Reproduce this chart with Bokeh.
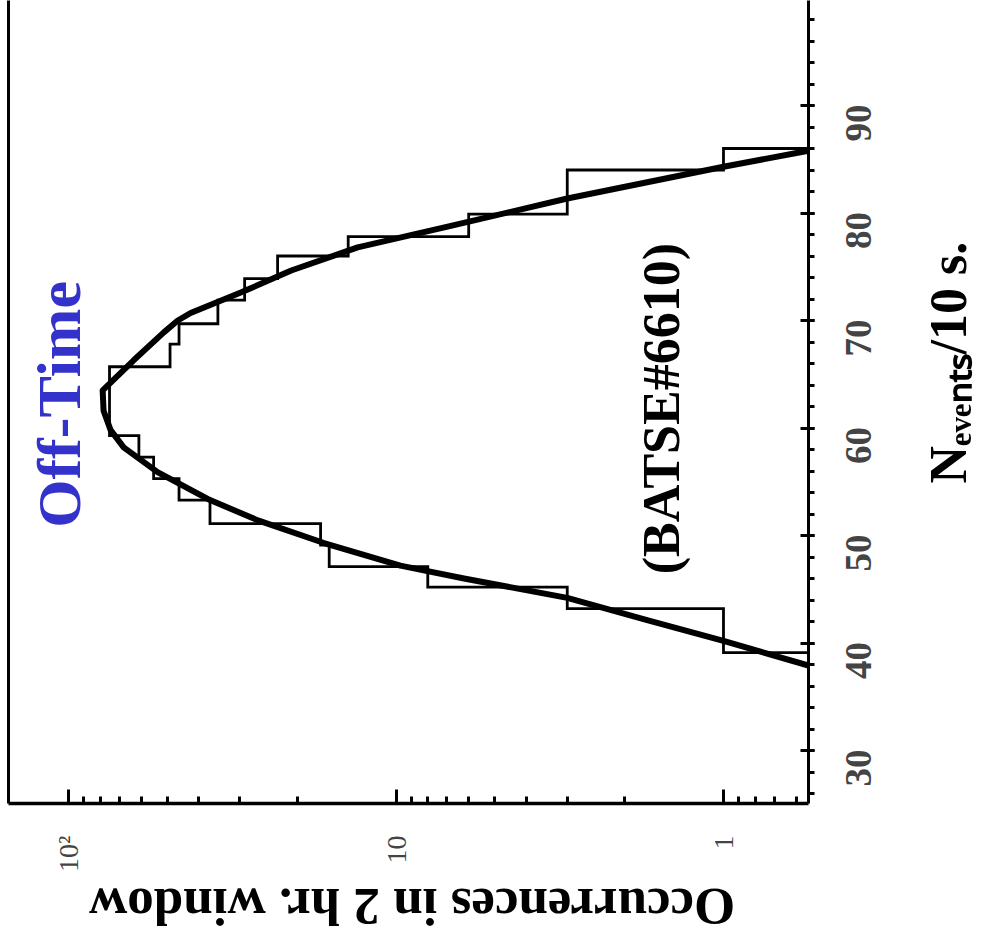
import math
from bokeh.plotting import figure
from bokeh.models import (Range1d, LinearAxis, Label, SingleIntervalTicker,
                          LogTicker, FixedTicker, CustomJSTickFormatter)
from bokeh.embed import file_html
from bokeh.resources import INLINE

# ---------------- data ----------------
# histogram: bin edges in N_events/10 s. and occurrences per bin
bin_edges = [39.1, 41.2, 43.2, 45.2, 47.1, 49.1, 51.1, 53.3, 55.3, 57.3, 59.3,
             61.4, 63.5, 65.7, 67.8, 69.7, 71.9, 73.9, 76.0, 77.8, 79.9, 81.9,
             84.0, 86.0]
bin_counts = [1, 1, 3, 8, 16, 17, 37, 46, 55, 61, 75, 75, 75, 49, 46, 35, 29,
              23, 14, 6, 3, 3, 1]
hist_floor = 0.1  # histogram closes to zero below the visible range

# fitted curve (N_events/10 s., occurrences)
fit_n = [37.9, 40.2, 42.1, 44.2, 46.0, 47.2, 49.3, 51.4, 53.4, 55.9, 58.2,
         59.8, 61.6, 63.5, 66.3, 68.9, 70.0, 70.7, 72.6, 74.65, 76.8, 78.8,
         81.35, 84.3, 85.8]
fit_counts = [0.55, 1.0, 1.7, 3.0, 6.2, 9.7, 16.6, 26.4, 37.6, 53.5, 67.9,
              74.4, 78.2, 78.7, 63.3, 51.2, 46.4, 42.4, 29.8, 20.9, 13.1, 6.8,
              3.0, 1.0, 0.55]

occ_range = (152.6, 0.55)     # reversed log axis (left -> right)
n_range = (25.07, 99.77)
n_label_shift = 3.35          # tick numbers sit just below their ticks
n_label_bounds = (30, 90)

FONT = "Liberation Serif"
BLUE = "#3333CC"

# ---------------- figure ----------------
p = figure(width=981, height=943, output_backend="svg", toolbar_location=None,
           x_axis_type="log", y_axis_location="right",
           x_range=Range1d(*occ_range), y_range=Range1d(*n_range),
           min_border_left=8, min_border_right=173, min_border_top=0,
           min_border_bottom=140)
p.outline_line_color = None
p.grid.visible = False
p.background_fill_color = "white"
p.border_fill_color = "white"
p.extra_y_ranges = {"nlab": Range1d(n_range[0] + n_label_shift,
                                    n_range[1] + n_label_shift)}

# bottom (log) axis
xa = p.xaxis[0]
xa.ticker = LogTicker(num_minor_ticks=10)
xa.formatter = CustomJSTickFormatter(code="""
const e = Math.round(Math.log10(tick));
if (e == 0) return "1";
if (e == 1) return "10";
const sup = {"2": "\u00b2", "3": "\u00b3"};
return "10" + (sup[String(e)] || String(e));
""")
xa.major_tick_in = 14
xa.major_tick_out = 0
xa.minor_tick_in = 7
xa.minor_tick_out = 0
xa.major_tick_line_width = 3
xa.minor_tick_line_width = 3
xa.axis_line_width = 3.5
xa.major_label_orientation = math.pi / 2
xa.major_label_text_font = FONT
xa.major_label_text_font_size = "28px"
xa.major_label_standoff = 32

# right (linear) axis: line and ticks
ya = p.yaxis[0]
ya.ticker = SingleIntervalTicker(interval=10, num_minor_ticks=5)
ya.formatter = CustomJSTickFormatter(code="return '';")
ya.major_tick_in = 8
ya.major_tick_out = 6
ya.minor_tick_in = 0
ya.minor_tick_out = 6
ya.major_tick_line_width = 3
ya.minor_tick_line_width = 3
ya.axis_line_width = 3
ya.major_label_standoff = 0

# right axis tick numbers
ya2 = LinearAxis(y_range_name="nlab", bounds=n_label_bounds,
                 ticker=SingleIntervalTicker(interval=10, num_minor_ticks=0),
                 major_tick_in=0, major_tick_out=0, minor_tick_in=0,
                 minor_tick_out=0, axis_line_color=None,
                 major_label_orientation=math.pi / 2,
                 major_label_text_font=FONT,
                 major_label_text_font_style="bold",
                 major_label_text_font_size="37px",
                 major_label_standoff=44)
p.add_layout(ya2, "right")

# left frame line (no ticks, no labels)
la = LinearAxis(ticker=FixedTicker(ticks=[]), major_tick_in=0, major_tick_out=0,
                minor_tick_in=0, minor_tick_out=0, major_label_standoff=0,
                axis_line_width=3)
p.add_layout(la, "left")

# ---------------- histogram outline ----------------
hx = [hist_floor]
hy = [bin_edges[0]]
for i, c in enumerate(bin_counts):
    hx += [c, c]
    hy += [bin_edges[i], bin_edges[i + 1]]
hx.append(hist_floor)
hy.append(bin_edges[-1])
p.line(hx, hy, line_color="black", line_width=2.8, line_join="miter")

# ---------------- fitted curve ----------------
p.line(fit_counts, fit_n, line_color="black", line_width=6, line_join="round",
       line_cap="round")

# ---------------- texts ----------------
def lab(text, x, y, size, angle, align="left", baseline="middle",
        color="black", place="center"):
    lbl = Label(x=x, y=y, text=text, angle=angle, text_align=align,
                text_baseline=baseline, text_font=FONT,
                text_font_style="bold", text_font_size=size, text_color=color)
    if place == "center":
        p.add_layout(lbl)
    else:
        p.add_layout(lbl, place)

lab("Off-Time", 107, 62.2, "62px", math.pi / 2, "center", "middle", BLUE)
lab("(BATSE#6610)", 1.55, 61.8, "52px", math.pi / 2, "center", "middle")
lab("Occurrences in 2 hr. window", 8.93, 15.40, "53px", math.pi, "center",
    "middle", place="below")
lab("N\u2091\u1d65\u2091\u2099\u209c\u209b/10 s.", 0.205, 54.84, "52px",
    math.pi / 2, "left", "middle", place="right")

open("out.html", "w").write(file_html(p, INLINE))
